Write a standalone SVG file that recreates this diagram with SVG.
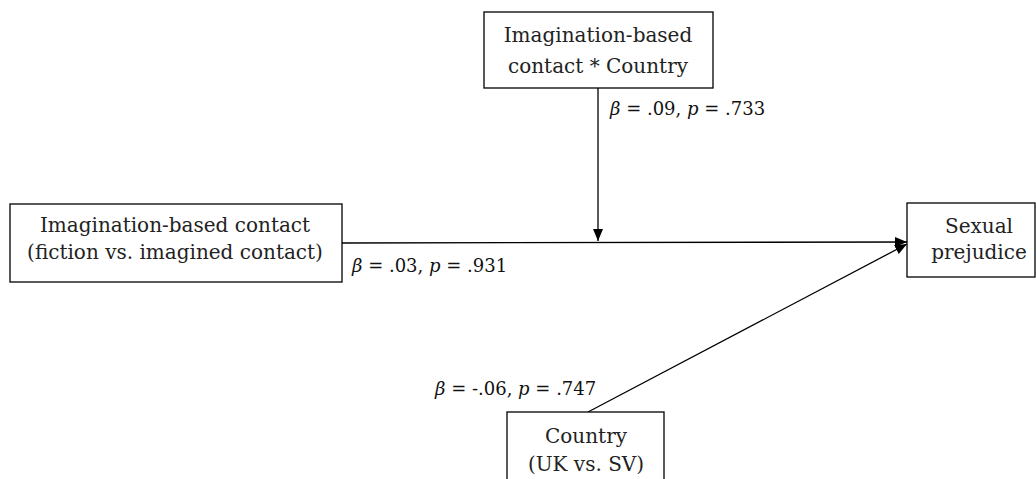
<svg xmlns="http://www.w3.org/2000/svg" width="1036" height="479" viewBox="0 0 1036 479">
<style>
.box{fill:#fff;stroke:#000;stroke-width:1.3}
.t{font-family:"DejaVu Serif","Liberation Serif",serif;font-size:20px;fill:#222;text-anchor:middle}
.l{font-family:"DejaVu Serif","Liberation Serif",serif;font-size:18px;fill:#111}
.i{font-style:italic}
.c{stroke:#000;stroke-width:1.3;fill:none}
</style>
<defs>
<marker id="ah" viewBox="0 0 12 10" refX="12" refY="5" markerWidth="12" markerHeight="10" markerUnits="userSpaceOnUse" orient="auto">
<path d="M0,0 L12,5 L0,10 Z" fill="#000"/>
</marker>
</defs>
<rect width="1036" height="479" fill="#fff"/>
<g id="connectors">
<line class="c" x1="342" y1="243" x2="907" y2="242" marker-end="url(#ah)"/>
<line class="c" x1="598" y1="88" x2="598" y2="241" marker-end="url(#ah)"/>
<line class="c" x1="588" y1="412" x2="907" y2="244" marker-end="url(#ah)"/>
</g>
<g id="interaction">
<rect class="box" x="484" y="12" width="229" height="76"/>
<text class="t" x="598" y="42">Imagination-based</text>
<text class="t" x="598" y="73">contact * Country</text>
</g>
<g id="predictor">
<rect class="box" x="10" y="204" width="332" height="78"/>
<text class="t" x="175" y="232">Imagination-based contact</text>
<text class="t" x="175" y="259">(fiction vs. imagined contact)</text>
</g>
<g id="outcome">
<rect class="box" x="907" y="203" width="128" height="74"/>
<text class="t" x="979" y="233">Sexual</text>
<text class="t" x="979" y="259">prejudice</text>
</g>
<g id="moderator">
<rect class="box" x="507" y="412" width="157" height="80"/>
<text class="t" x="586" y="443">Country</text>
<text class="t" x="586" y="471">(UK vs. SV)</text>
</g>
<g id="labels">
<text class="l" x="610" y="115"><tspan class="i">β</tspan> = .09, <tspan class="i">p</tspan> = .733</text>
<text class="l" x="352" y="272"><tspan class="i">β</tspan> = .03, <tspan class="i">p</tspan> = .931</text>
<text class="l" x="435" y="395"><tspan class="i">β</tspan> = -.06, <tspan class="i">p</tspan> = .747</text>
</g>
</svg>
